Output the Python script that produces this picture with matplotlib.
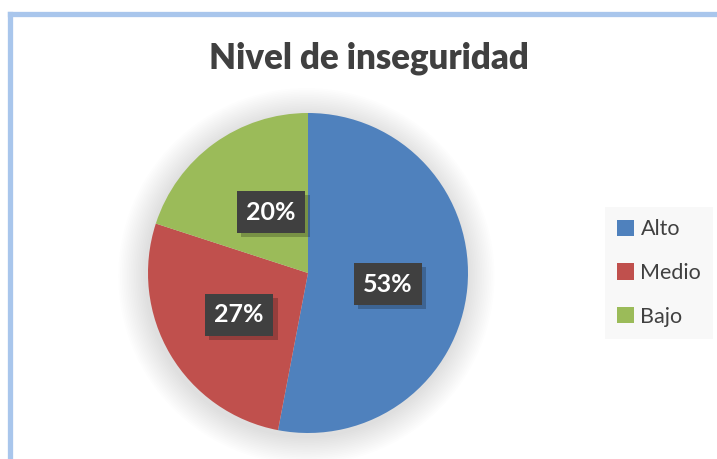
import matplotlib.pyplot as plt
import matplotlib.patheffects as pe
from matplotlib.patches import Circle, Patch
from matplotlib.lines import Line2D

categorias = ["Alto", "Medio", "Bajo"]
porcentajes = [53, 27, 20]
colores = ["#4F81BD", "#C0504D", "#9BBB59"]
titulo = "Nivel de inseguridad"

W, H = 717, 459
plt.rcParams["font.family"] = ["Lato", "DejaVu Sans"]

fig = plt.figure(figsize=(W / 100, H / 100), dpi=100)
fig.patch.set_facecolor("white")

# marco azul claro (solo se ven los bordes izquierdo y superior)
frame_kw = dict(color="#A9C6EC", lw=3.8, solid_capstyle="projecting")
fig.add_artist(Line2D([10 / W, 10 / W], [0, 1 - 14 / H], transform=fig.transFigure, **frame_kw))
fig.add_artist(Line2D([10 / W, 1], [1 - 14 / H, 1 - 14 / H], transform=fig.transFigure, **frame_kw))

fig.text(369 / W, 1 - 58 / H, titulo, ha="center", va="center",
         fontsize=25, fontweight="heavy", color="#404040")

ax = fig.add_axes([132 / W, 10 / H, 352 / W, 352 / H])
ax.axis("off")

# sombra difusa alrededor del pastel
for i in range(16):
    r = 1.0 + 0.011 * (16 - i)
    ax.add_patch(Circle((-0.01, -0.02), r, color="black", alpha=0.007, lw=0, clip_on=False))

wedges, _, autotexts = ax.pie(
    porcentajes, colors=colores, startangle=90, counterclock=False,
    autopct=lambda p: f"{round(p):d}%", pctdistance=0.5, radius=1.0,
    wedgeprops=dict(linewidth=0),
)
ax.set_xlim(-1.1, 1.1)
ax.set_ylim(-1.1, 1.1)
ax.set_aspect("equal")

for t in autotexts:
    t.set_color("white")
    t.set_fontweight("bold")
    t.set_fontsize(18)
    t.set_bbox(dict(boxstyle="square,pad=0.38", facecolor="#404040", edgecolor="none"))
    t.get_bbox_patch().set_path_effects([
        pe.SimplePatchShadow(offset=(3, -3), shadow_rgbFace="black", alpha=0.22),
        pe.Normal(),
    ])
autotexts[0].set_position((0.5, -0.07))
autotexts[1].set_position((-0.43, -0.26))
autotexts[2].set_position((-0.23, 0.38))

handles = [Patch(facecolor=c, edgecolor="none") for c in colores]
leg = fig.legend(handles, categorias, loc="center", bbox_to_anchor=(659 / W, 1 - 273 / H),
                 fontsize=15.5, frameon=True, fancybox=False, labelspacing=1.1,
                 handlelength=0.8, handleheight=0.8, handletextpad=0.3,
                 borderpad=0.55, labelcolor="#404040")
leg.get_frame().set_facecolor("#F7F7F7")
leg.get_frame().set_edgecolor("none")

fig.savefig("out.png", dpi=100)
